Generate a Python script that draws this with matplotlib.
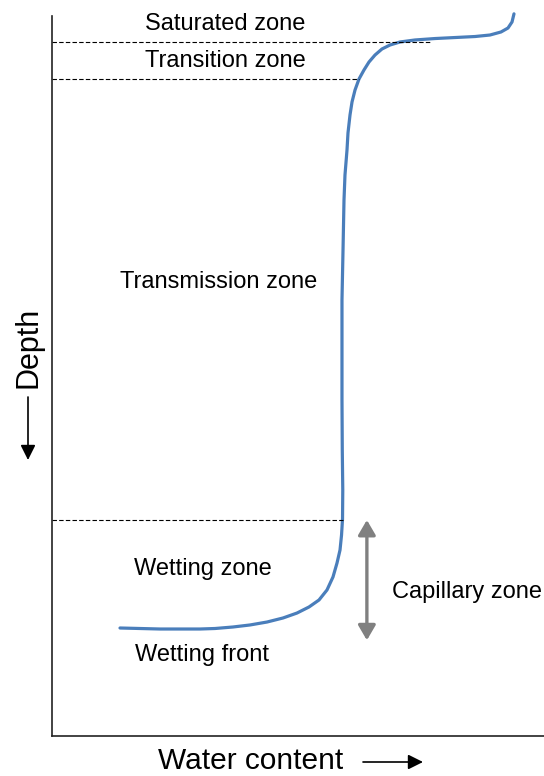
import matplotlib
matplotlib.use("Agg")
import matplotlib.pyplot as plt

plt.rcParams['font.family'] = ['Liberation Sans', 'DejaVu Sans']

# moisture profile (water content %, depth %)
water = [93.90, 93.50, 92.68, 91.26, 89.02, 85.98, 81.91, 77.85, 73.78,
         70.73, 68.70, 67.07, 65.65, 64.43, 63.41, 62.40, 61.59, 60.98,
         60.57, 60.16, 59.96, 59.55, 59.35, 59.15, 58.94, 58.94, 58.94,
         59.00, 59.10, 59.05, 58.85, 58.54, 57.93, 57.11, 55.89, 54.27,
         52.24, 49.80, 46.95, 43.70, 40.24, 36.79, 33.13, 30.08, 26.02,
         21.95, 17.89, 13.82]
depth = [-0.30, 0.83, 1.67, 2.22, 2.64, 2.85, 2.99, 3.13, 3.33,
         3.61, 4.03, 4.58, 5.42, 6.39, 7.50, 8.75, 10.28, 11.94,
         13.75, 16.25, 18.61, 22.08, 25.56, 32.50, 39.44, 46.39, 53.33,
         60.28, 65.83, 69.86, 72.08, 74.17, 75.97, 77.92, 79.72, 81.11,
         82.08, 82.92, 83.61, 84.17, 84.58, 84.86, 85.07, 85.14, 85.14,
         85.14, 85.07, 85.00]

# zone boundaries: depth and how far the dashed line reaches
bound_depth = [3.6, 8.75, 70.0]
bound_reach = [77.2, 62.4, 59.1]

zone_names = ["Saturated zone", "Transition zone", "Transmission zone",
              "Wetting zone", "Wetting front", "Capillary zone"]
zone_x = [35.2, 35.2, 33.9, 30.7, 30.5, 84.3]
zone_y = [1.1, 6.25, 37.0, 76.8, 88.8, 80.0]

cap_x = 64.0
cap_top, cap_bot = 70.0, 86.7

W, H = 544, 776
fig = plt.figure(figsize=(W / 100, H / 100), dpi=100)
ax = fig.add_axes([52 / W, 1 - 736 / H, (W - 52) / W, (736 - 16) / H])
ax.set_xlim(0, 100)
ax.set_ylim(100, 0)

ax.plot(water, depth, color='#4a7ebb', lw=2.3, clip_on=False,
        solid_capstyle='round', solid_joinstyle='round')

for d, r in zip(bound_depth, bound_reach):
    ax.plot([0, r], [d, d], color='black', lw=0.8, ls=(0, (4, 2)))

for name, x, y in zip(zone_names, zone_x, zone_y):
    ax.text(x, y, name, ha='center', va='center', fontsize=17)

ax.annotate('', xy=(cap_x, cap_top), xytext=(cap_x, cap_bot),
            arrowprops=dict(arrowstyle='<|-|>,head_length=0.6,head_width=0.35',
                            mutation_scale=15, color='#808080', lw=2.4,
                            shrinkA=0, shrinkB=0))

ax.set_xticks([])
ax.set_yticks([])
for s in ['top', 'right']:
    ax.spines[s].set_visible(False)
for s in ['left', 'bottom']:
    ax.spines[s].set_linewidth(1.2)
    ax.spines[s].set_color('#222222')

# axis titles with arrows
fig.text(251 / W, 1 - 761 / H, "Water content", ha='center', va='center',
         fontsize=21.5)
fig.text(29 / W, 1 - 347 / H, "Depth", ha='center', va='center',
         fontsize=22, rotation=90)
ap = dict(arrowstyle='-|>,head_length=0.6,head_width=0.3', mutation_scale=15,
          color='black', lw=1.2, shrinkA=0, shrinkB=0)
ax.annotate('', xy=(423 / W, 1 - 762 / H), xytext=(363 / W, 1 - 762 / H),
            xycoords='figure fraction', textcoords='figure fraction',
            arrowprops=ap, annotation_clip=False)
ax.annotate('', xy=(28 / W, 1 - 460 / H), xytext=(28 / W, 1 - 397 / H),
            xycoords='figure fraction', textcoords='figure fraction',
            arrowprops=ap, annotation_clip=False)

fig.savefig('out.png', dpi=100)
